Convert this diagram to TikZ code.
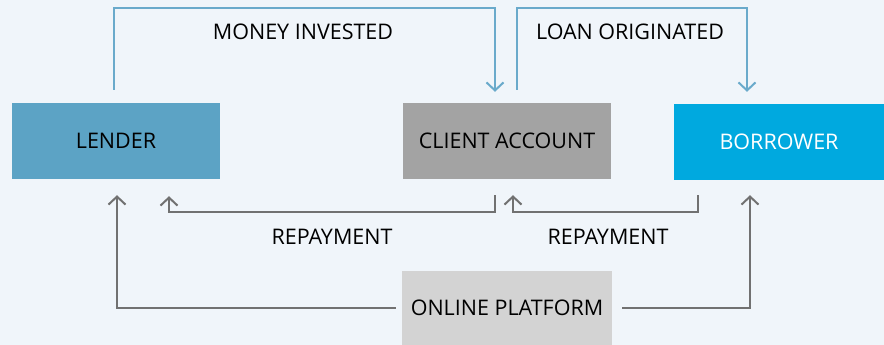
\documentclass[tikz,border=0pt]{standalone}
\usepackage{fontspec}
\setmainfont{Open Sans}
\usetikzlibrary{arrows.meta,calc}
\definecolor{bgcol}{HTML}{F0F5FA}
\definecolor{lendercol}{HTML}{5CA3C5}
\definecolor{clientcol}{HTML}{A3A3A3}
\definecolor{borrowcol}{HTML}{00A9DF}
\definecolor{platcol}{HTML}{D3D3D3}
\definecolor{blueline}{HTML}{6AAACB}
\definecolor{grayline}{HTML}{717171}
\tikzset{
  box/.style={minimum width=208pt, minimum height=76pt, inner sep=0pt,
    font=\fontsize{21.5}{24}\selectfont, text=black},
  lbl/.style={font=\fontsize{21.5}{24}\selectfont, text=black, inner sep=0pt},
  tip/.style={-{Straight Barb[length=8pt,width=17pt,line width=2pt]}},
  bflow/.style={draw=blueline, line width=2pt, tip},
  gflow/.style={draw=grayline, line width=2pt, tip},
}
\begin{document}
\begin{tikzpicture}[x=1pt,y=-1pt]
  \fill[bgcol] (0,0) rectangle (884,345);
  \useasboundingbox (0,0) rectangle (884,345);

  % parties
  \node[box, fill=lendercol] (lender) at (116,141) {LENDER};
  \node[box, fill=clientcol] (client) at (507,141) {CLIENT ACCOUNT};
  \node[box, fill=borrowcol, text=white, minimum width=210pt] (borrower) at (779,142) {BORROWER};
  \node[box, fill=platcol, minimum width=210pt, minimum height=74pt] (platform) at (507,308) {ONLINE PLATFORM};

  % funds moving forward
  \draw[bflow] ([xshift=-2pt,yshift=13pt]lender.north) |- ($(client.north)+(-12,-95)$)
      -- ([xshift=-12pt,yshift=11pt]client.north);
  \draw[bflow] ([xshift=10pt,yshift=13pt]client.north) |- ($(borrower.north)+(-32,-96)$)
      -- ([xshift=-32pt,yshift=12pt]borrower.north);
  \node[lbl] (invested) at (303,32) {MONEY INVESTED};
  \node[lbl] (originated) at (630,32) {LOAN ORIGINATED};

  % repayments
  \draw[gflow] ([xshift=-12pt,yshift=-16pt]client.south) |- ($(lender.south)+(53,33)$)
      -- ([xshift=53pt,yshift=-17pt]lender.south);
  \draw[gflow] ([xshift=-81pt,yshift=-15pt]borrower.south) |- ($(client.south)+(6,33)$)
      -- ([xshift=6pt,yshift=-16pt]client.south);
  \node[lbl] (rep1) at (332,237) {REPAYMENT};
  \node[lbl] (rep2) at (608,237) {REPAYMENT};

  % platform links
  \draw[gflow] ([xshift=-6pt]platform.west) -| ([xshift=1pt,yshift=-16pt]lender.south);
  \draw[gflow] ([xshift=10pt]platform.east) -| ([xshift=-29pt,yshift=-15pt]borrower.south);
\end{tikzpicture}
\end{document}
